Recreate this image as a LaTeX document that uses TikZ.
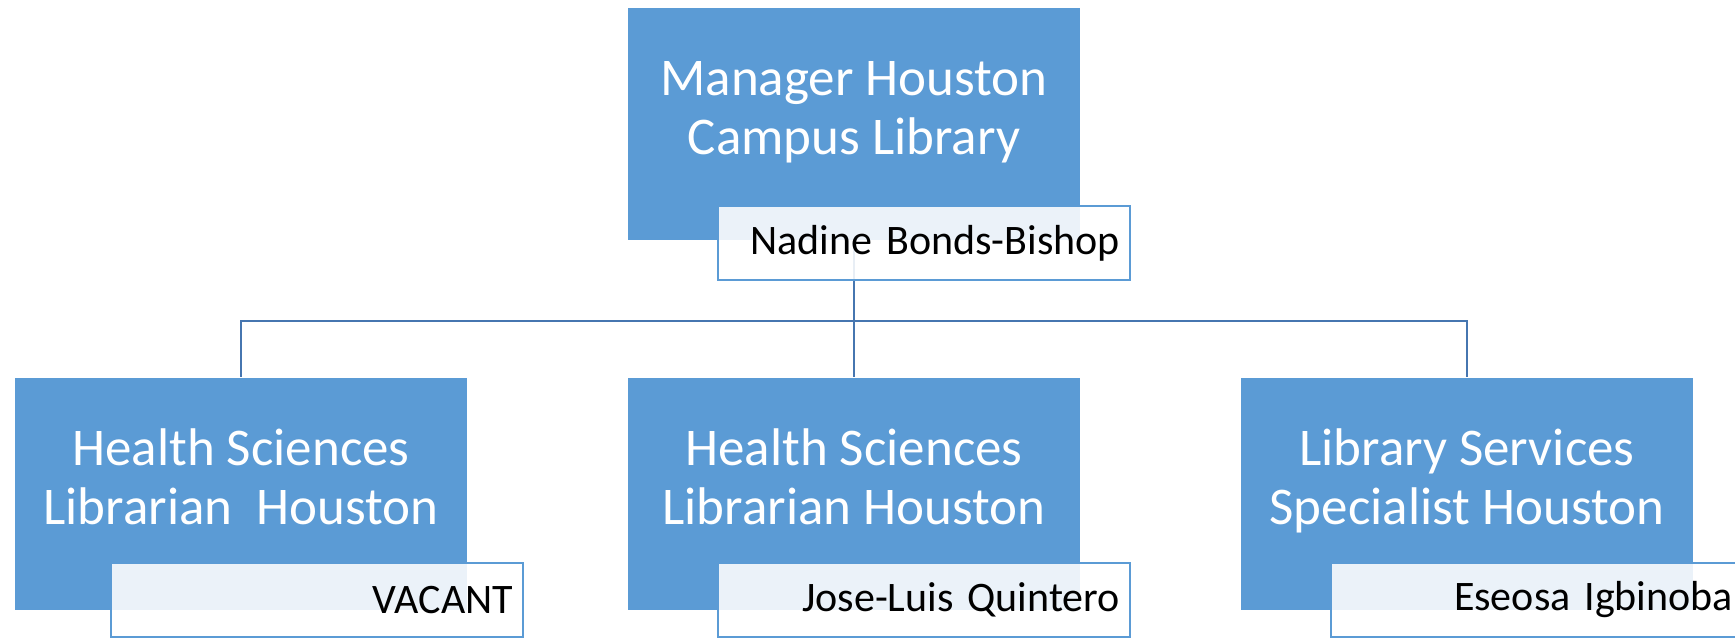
\documentclass[tikz,border=0pt]{standalone}
\usepackage{fontspec}
\setmainfont{Carlito}
\usepackage{tikz}

\definecolor{boxblue}{HTML}{5B9BD5}
\definecolor{linkblue}{HTML}{4676B0}

\begin{document}
\begin{tikzpicture}[x=0.5pt,y=-0.5pt,
	rolebox/.style={rectangle,fill=boxblue,draw=white,line width=0.4pt,minimum width=226.5pt,minimum height=116.5pt,inner sep=0pt},
	roletext/.style={text=white,align=center,font=\fontsize{26.5}{29.5}\selectfont},
	namebox/.style={rectangle,draw=boxblue,line width=1pt,fill=white,fill opacity=0.88,text opacity=1,anchor=north west,minimum width=206pt,minimum height=37pt,inner sep=5pt,text width=196pt,align=right,font=\fontsize{21}{25}\selectfont},
	link/.style={draw=linkblue,line width=1.4pt}]
\useasboundingbox (0,0) rectangle (1735,639);

\node[rolebox] (mgr) at (854,124) {};
\node[rolebox] (hsl1) at (241,494) {};
\node[rolebox] (hsl2) at (854,494) {};
\node[rolebox] (lss) at (1467,494) {};

\node[roletext] (mgrtitle) at ([yshift=5.5pt]mgr.center) {\strut Manager Houston\\\strut Campus Library};
\node[roletext] (hsl1title) at ([yshift=5.5pt]hsl1.center) {\strut Health Sciences\\\strut Librarian\ \ Houston};
\node[roletext] (hsl2title) at ([yshift=5.5pt]hsl2.center) {\strut Health Sciences\\\strut Librarian Houston};
\node[roletext] (lsstitle) at ([yshift=5.5pt]lss.center) {\strut Library Services\\\strut Specialist Houston};

\coordinate (bus) at (854,321);
\draw[link] (mgr.south) -- (bus) -| (hsl1.north);
\draw[link] (bus) -| (lss.north);
\draw[link] (bus) -- (hsl2.north);

\node[namebox] (mgrname) at (717,205) {Nadine Bonds-Bishop};
\node[namebox] (hsl1name) at (110,562) {VACANT};
\node[namebox] (hsl2name) at (717,562) {Jose-Luis Quintero};
\node[namebox] (lssname) at (1330,562) {Eseosa Igbinoba};
\end{tikzpicture}
\end{document}
